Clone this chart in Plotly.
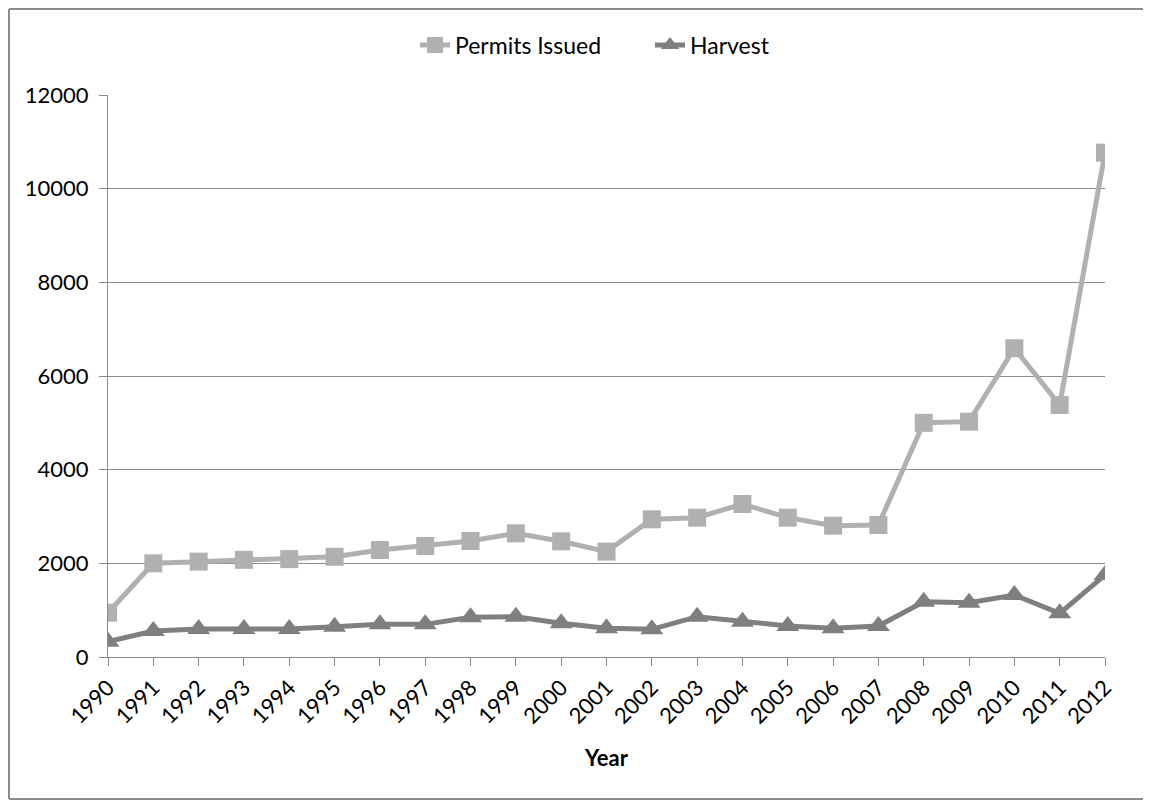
import plotly.graph_objects as go

years = [str(y) for y in range(1990, 2013)]
permits = [946, 2000, 2036, 2075, 2090, 2140, 2285, 2370, 2477, 2641, 2470, 2250,
           2940, 2975, 3267, 2975, 2804, 2819, 5000, 5025, 6592, 5381, 10769]
harvest = [327, 555, 598, 598, 598, 648, 697, 697, 847, 861, 719, 612,
           591, 861, 754, 662, 612, 662, 1181, 1160, 1324, 933, 1750]
y_ticks = [0, 2000, 4000, 6000, 8000, 10000, 12000]
y_ticktext = [str(v) for v in y_ticks]

FONT = "Lato, 'Open Sans', sans-serif"
FS = 22

fig = go.Figure()
fig.add_trace(go.Scatter(
    x=years, y=permits, name="Permits Issued", mode="lines+markers",
    line=dict(color="#b0b0b0", width=5),
    marker=dict(symbol="square", size=18, color="#b0b0b0"),
))
fig.add_trace(go.Scatter(
    x=years, y=harvest, name="Harvest", mode="lines+markers",
    line=dict(color="#7f7f7f", width=5),
    marker=dict(symbol="triangle-up", size=20, color="#7f7f7f"),
))

# page is offset by the 8px body margin
OFF = 8
W, H = 1151 - OFF, 801 - OFF
L, R, T, B = 108 - OFF, 1105 - OFF, 95 - OFF, 657 - OFF
PW, PH = R - L, B - T

def px(x):
    return (x - L) / PW

def py(y):
    return (B - y) / PH

border = dict(color="#8c8c8c", width=2)

fig.update_layout(
    width=W, height=H,
    margin=dict(l=L, r=W - R, t=T, b=H - B, pad=0),
    paper_bgcolor="white", plot_bgcolor="white",
    font=dict(family=FONT, size=FS, color="#000000"),
    showlegend=True,
    legend=dict(orientation="h", x=px(415 - OFF), xanchor="left",
                y=py(45 - OFF), yanchor="middle",
                entrywidth=190, entrywidthmode="pixels",
                font=dict(size=FS + 1), tracegroupgap=0),
    xaxis=dict(
        type="category", range=[0, len(years) - 1],
        showline=True, linecolor="#8c8c8c", linewidth=1,
        ticks="outside", ticklen=8, tickcolor="#8c8c8c",
        tickangle=-45, showgrid=False, zeroline=False,
        tickfont=dict(size=FS),
    ),
    yaxis=dict(
        range=[0, 12000], tickvals=y_ticks, ticktext=y_ticktext,
        showline=True, linecolor="#8c8c8c", linewidth=1,
        ticks="outside", ticklen=8, tickcolor="#8c8c8c",
        showgrid=True, gridcolor="#8c8c8c", gridwidth=1, zeroline=False,
        tickfont=dict(size=FS), ticklabelstandoff=6,
    ),
    annotations=[dict(
        text="<b>Year</b>", xref="paper", yref="paper",
        x=px(606 - OFF), y=py(757 - OFF), xanchor="center", yanchor="middle",
        showarrow=False, font=dict(size=FS),
    )],
    shapes=[
        dict(type="line", xref="paper", yref="paper",
             x0=px(1), x1=px(1), y0=py(H - 2), y1=py(1), line=border, layer="below"),
        dict(type="line", xref="paper", yref="paper",
             x0=px(1), x1=px(W), y0=py(1), y1=py(1), line=border, layer="below"),
        dict(type="line", xref="paper", yref="paper",
             x0=px(1), x1=px(W), y0=py(H - 2), y1=py(H - 2), line=border, layer="below"),
    ],
)

fig.write_html("out.html")
